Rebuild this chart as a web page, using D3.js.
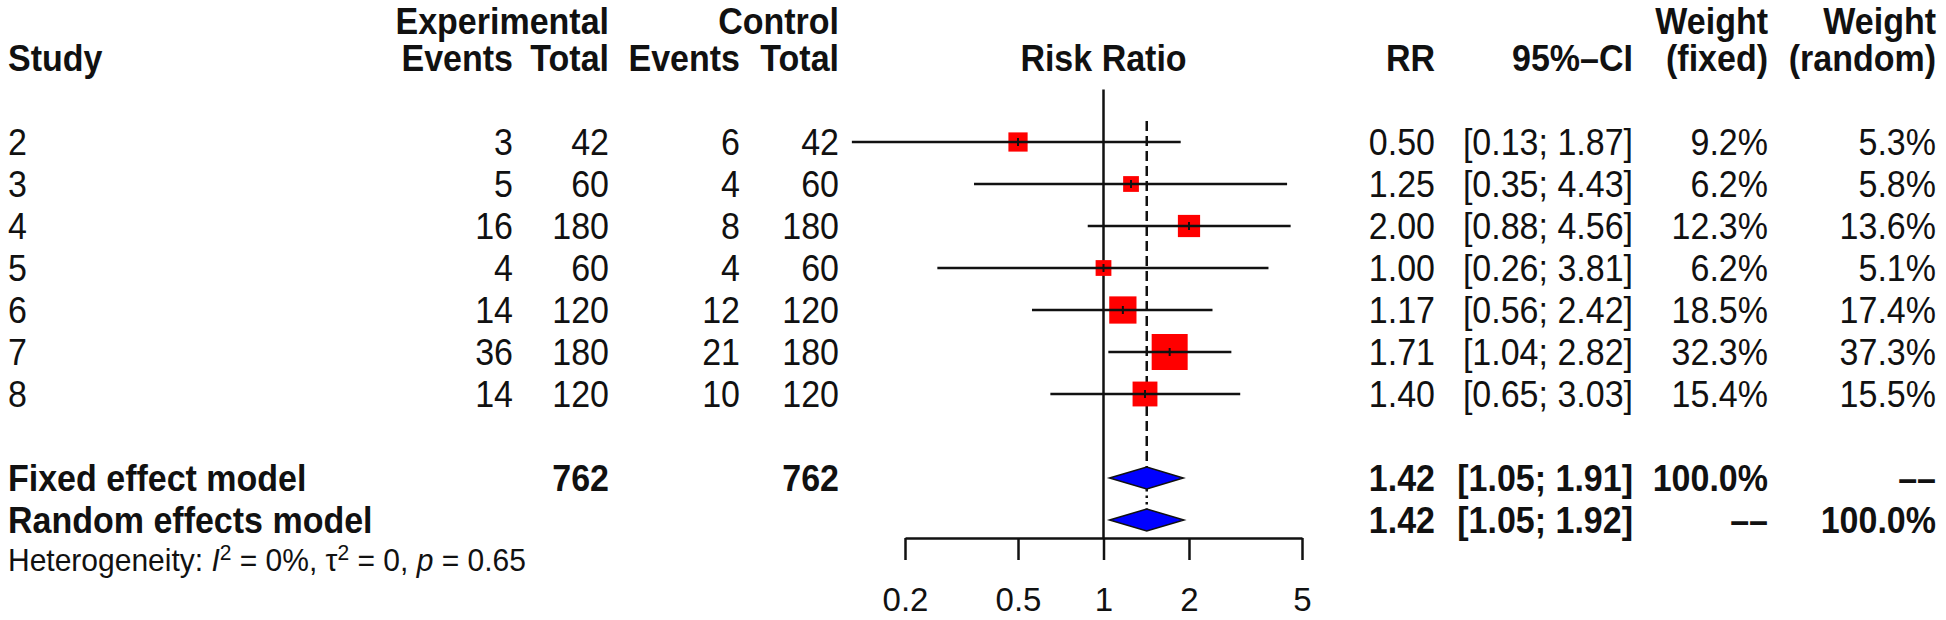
<!DOCTYPE html>
<html>
<head>
<meta charset="utf-8">
<script src="https://cdn.jsdelivr.net/npm/d3@7"></script>
<style>
  body { margin: 0; background: #fff; }
  svg text { font-family: "Liberation Sans", Arial, sans-serif; fill: #111; }
</style>
</head>
<body>
<div id="forest"></div>
<script>
// study data
var studies      = ["2", "3", "4", "5", "6", "7", "8"];
var expEvents    = [3, 5, 16, 4, 14, 36, 14];
var expTotal     = [42, 60, 180, 60, 120, 180, 120];
var ctrlEvents   = [6, 4, 8, 4, 12, 21, 10];
var ctrlTotal    = [42, 60, 180, 60, 120, 180, 120];
var riskRatio    = [0.50, 1.25, 2.00, 1.00, 1.17, 1.71, 1.40];
var ciLower      = [0.13, 0.35, 0.88, 0.26, 0.56, 1.04, 0.65];
var ciUpper      = [1.87, 4.43, 4.56, 3.81, 2.42, 2.82, 3.03];
var weightFixed  = [9.2, 6.2, 12.3, 6.2, 18.5, 32.3, 15.4];
var weightRandom = [5.3, 5.8, 13.6, 5.1, 17.4, 37.3, 15.5];

// pooled estimates
var pooledLabels       = ["Fixed effect model", "Random effects model"];
var pooledRR           = [1.42, 1.42];
var pooledLower        = [1.05, 1.05];
var pooledUpper        = [1.91, 1.92];
var pooledWeightFixed  = ["100.0%", "\u2013\u2013"];
var pooledWeightRandom = ["\u2013\u2013", "100.0%"];

var tickValues = [0.2, 0.5, 1, 2, 5];

function plotForest() {

	var width = 1946,
		height = 620,
		rowH = 42;

	//////// SCALES ////////
	// one text line every 42px: 0,1 headers, 3..9 studies, 11,12 pooled, 13 heterogeneity
	var yRow = d3.scaleLinear()
		.domain([0, 13])
		.range([16, 16 + 13 * rowH]);

	var xScale = d3.scaleLog()
		.domain([0.2, 5])
		.range([905, 1302]);

	var sizeScale = d3.scaleSqrt()
		.domain([0, d3.max(weightFixed)])
		.range([0, 36]);

	var f2 = d3.format(".2f"),
		f1 = d3.format(".1f");

	// column anchors
	var col = {
		study: 8, expEvents: 513, expTotal: 609, ctrlEvents: 740, ctrlTotal: 839,
		rr: 1435, ci: 1633, wFixed: 1768, wRandom: 1936
	};

	var svg = d3.select("#forest").append("svg")
		.attr("width", width)
		.attr("height", height);

	var g = svg.append("g");

	function label(x, y, s, anchor, weight, size) {
		return g.append("text")
			.attr("transform", "translate(" + x + "," + y + ") scale(1,1.1)")
			.attr("dy", "0.36em")
			.attr("text-anchor", anchor || "end")
			.attr("font-weight", weight || "normal")
			.attr("font-size", size || 34)
			.text(s);
	}

	//////// HEADERS ////////
	var top = yRow(0.1);
	label(col.expTotal, top, "Experimental", "end", "bold");
	label(col.ctrlTotal, top, "Control", "end", "bold");
	label(col.wFixed, top, "Weight", "end", "bold");
	label(col.wRandom, top, "Weight", "end", "bold");

	label(col.study, yRow(1), "Study", "start", "bold");
	label(col.expEvents, yRow(1), "Events", "end", "bold");
	label(col.expTotal, yRow(1), "Total", "end", "bold");
	label(col.ctrlEvents, yRow(1), "Events", "end", "bold");
	label(col.ctrlTotal, yRow(1), "Total", "end", "bold");
	label(xScale(1), yRow(1), "Risk Ratio", "middle", "bold");
	label(col.rr, yRow(1), "RR", "end", "bold");
	label(col.ci, yRow(1), "95%\u2013CI", "end", "bold");
	label(col.wFixed, yRow(1), "(fixed)", "end", "bold");
	label(col.wRandom, yRow(1), "(random)", "end", "bold");

	//////// STUDY ROWS ////////
	studies.forEach(function(s, i) {
		var y = yRow(3 + i);
		label(col.study, y, s, "start");
		label(col.expEvents, y, expEvents[i]);
		label(col.expTotal, y, expTotal[i]);
		label(col.ctrlEvents, y, ctrlEvents[i]);
		label(col.ctrlTotal, y, ctrlTotal[i]);
		label(col.rr, y, f2(riskRatio[i]));
		label(col.ci, y, "[" + f2(ciLower[i]) + "; " + f2(ciUpper[i]) + "]");
		label(col.wFixed, y, f1(weightFixed[i]) + "%");
		label(col.wRandom, y, f1(weightRandom[i]) + "%");
	});

	//////// POOLED ROWS ////////
	pooledLabels.forEach(function(s, i) {
		var y = yRow(11 + i);
		label(col.study, y, s, "start", "bold");
		if (i === 0) {
			label(col.expTotal, y, d3.sum(expTotal), "end", "bold");
			label(col.ctrlTotal, y, d3.sum(ctrlTotal), "end", "bold");
		}
		label(col.rr, y, f2(pooledRR[i]), "end", "bold");
		label(col.ci, y, "[" + f2(pooledLower[i]) + "; " + f2(pooledUpper[i]) + "]", "end", "bold");
		label(col.wFixed, y, pooledWeightFixed[i], "end", "bold");
		label(col.wRandom, y, pooledWeightRandom[i], "end", "bold");
	});

	// heterogeneity
	var het = g.append("text")
		.attr("transform", "translate(" + col.study + "," + yRow(12.95) + ") scale(1,1.05)")
		.attr("dy", "0.36em")
		.attr("font-size", 30);
	het.append("tspan").text("Heterogeneity: ");
	het.append("tspan").attr("font-style", "italic").text("I");
	het.append("tspan").attr("font-size", 21).attr("dy", -11).text("2");
	het.append("tspan").attr("dy", 11).text(" = 0%, \u03c4");
	het.append("tspan").attr("font-size", 21).attr("dy", -11).text("2");
	het.append("tspan").attr("dy", 11).text(" = 0, ");
	het.append("tspan").attr("font-style", "italic").text("p");
	het.append("tspan").text(" = 0.65");

	//////// PLOT AREA ////////
	var axisY = yRow(12) + 18,
		diamondH = 22,
		plot = g.append("g");

	// line of no effect
	plot.append("line")
		.attr("x1", xScale(1)).attr("x2", xScale(1))
		.attr("y1", yRow(1.75)).attr("y2", axisY)
		.attr("stroke", "#111").attr("stroke-width", 2.5);

	// fixed effect estimate (dashed) and random effects estimate (dotted)
	plot.append("line")
		.attr("x1", xScale(pooledRR[0])).attr("x2", xScale(pooledRR[0]))
		.attr("y1", yRow(2.5)).attr("y2", yRow(11) - diamondH / 2)
		.attr("stroke", "#111").attr("stroke-width", 2.5)
		.attr("stroke-dasharray", "10,5");

	plot.append("line")
		.attr("x1", xScale(pooledRR[1])).attr("x2", xScale(pooledRR[1]))
		.attr("y1", yRow(11) + diamondH / 2).attr("y2", yRow(12) - diamondH / 2)
		.attr("stroke", "#111").attr("stroke-width", 2.5)
		.attr("stroke-dasharray", "2.5,4");

	// squares
	plot.selectAll("rect.study")
		.data(studies)
		.enter().append("rect")
			.attr("class", "study")
			.attr("x", function(d, i) { return xScale(riskRatio[i]) - sizeScale(weightFixed[i]) / 2; })
			.attr("y", function(d, i) { return yRow(3 + i) - sizeScale(weightFixed[i]) / 2; })
			.attr("width", function(d, i) { return sizeScale(weightFixed[i]); })
			.attr("height", function(d, i) { return sizeScale(weightFixed[i]); })
			.attr("fill", "#f00");

	// confidence intervals
	plot.selectAll("line.ci")
		.data(studies)
		.enter().append("line")
			.attr("class", "ci")
			.attr("x1", function(d, i) { return xScale(ciLower[i]); })
			.attr("x2", function(d, i) { return xScale(ciUpper[i]); })
			.attr("y1", function(d, i) { return yRow(3 + i); })
			.attr("y2", function(d, i) { return yRow(3 + i); })
			.attr("stroke", "#111").attr("stroke-width", 2.5);

	// point estimate tick inside the square
	plot.selectAll("line.est")
		.data(studies)
		.enter().append("line")
			.attr("class", "est")
			.attr("x1", function(d, i) { return xScale(riskRatio[i]); })
			.attr("x2", function(d, i) { return xScale(riskRatio[i]); })
			.attr("y1", function(d, i) { return yRow(3 + i) - 4; })
			.attr("y2", function(d, i) { return yRow(3 + i) + 4; })
			.attr("stroke", "#111").attr("stroke-width", 2);

	// diamonds
	plot.selectAll("polygon.pooled")
		.data(pooledLabels)
		.enter().append("polygon")
			.attr("class", "pooled")
			.attr("points", function(d, i) {
				var y = yRow(11 + i);
				return [
					[xScale(pooledLower[i]), y],
					[xScale(pooledRR[i]), y - diamondH / 2],
					[xScale(pooledUpper[i]), y],
					[xScale(pooledRR[i]), y + diamondH / 2]
				].join(" ");
			})
			.attr("fill", "#00f")
			.attr("stroke", "#111")
			.attr("stroke-width", 1.5);

	//////// AXIS ////////
	var axis = plot.append("g")
		.attr("transform", "translate(0," + axisY + ")")
		.call(d3.axisBottom(xScale)
			.tickValues(tickValues)
			.tickFormat(function(d) { return d; })
			.tickSize(22)
			.tickSizeOuter(0)
			.tickPadding(28));

	axis.select(".domain").attr("stroke", "#111").attr("stroke-width", 2.5);
	axis.selectAll(".tick line").attr("stroke", "#111").attr("stroke-width", 2.5);
	axis.selectAll(".tick text")
		.attr("fill", "#111")
		.attr("font-size", 33)
		.attr("font-family", "Liberation Sans, Arial, sans-serif");
}
plotForest();
</script>
</body>
</html>
